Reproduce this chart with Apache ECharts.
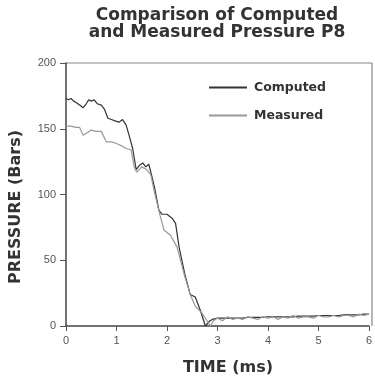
<!DOCTYPE html>
<html><head><meta charset="utf-8">
<script src="https://cdn.jsdelivr.net/npm/echarts@6/dist/echarts.min.js"></script>
<style>html,body{margin:0;padding:0;background:#fff}#c{width:375px;height:382px}</style>
</head><body><div id="c"></div>
<script>
var xTicks = [0, 1, 2, 3, 4, 5, 6];
var yTicks = [0, 50, 100, 150, 200];
var computedT = [0.0,0.05,0.1,0.15,0.2,0.27,0.34,0.4,0.45,0.5,0.56,0.62,0.7,0.76,0.83,0.9,0.97,1.05,1.12,1.19,1.25,1.32,1.39,1.45,1.52,1.58,1.64,1.68,1.75,1.84,1.9,2.0,2.1,2.17,2.24,2.35,2.46,2.56,2.66,2.76,2.85,2.9,
  3.0,3.1,3.2,3.3,3.4,3.5,3.6,3.7,3.8,3.9,4.0,4.1,4.2,4.3,4.4,4.5,4.6,4.7,4.8,4.9,5.0,5.1,5.2,5.3,5.4,5.5,5.6,5.7,5.8,5.9,6.0];
var computedP = [173,172,173,171,170,168,166,169,172,171,172,169,168,165,158,157,156,155,157,153,145,135,119,122,124,121,123,117,106,88,85,85,82,78,60,40,24,22,12,0,4,5,
  6,6,6,6,6,6,6.5,6.5,6.5,6.5,7,7,7,7,7,7,7.5,7.5,7.5,7.5,8,8,8,8,8,8.5,8.5,8.5,8.5,9,9];
var measuredT = [0.0,0.1,0.2,0.27,0.34,0.42,0.5,0.6,0.7,0.8,0.9,0.99,1.1,1.19,1.29,1.35,1.4,1.5,1.6,1.68,1.75,1.85,1.94,2.07,2.2,2.35,2.46,2.56,2.69,2.86,2.92,
  3.0,3.1,3.2,3.3,3.4,3.5,3.6,3.7,3.8,3.9,4.0,4.1,4.2,4.3,4.4,4.5,4.6,4.7,4.8,4.9,5.0,5.1,5.2,5.3,5.4,5.5,5.6,5.7,5.8,5.9,6.0];
var measuredP = [152,152,151,151,145,147,149,148,148,140,140,139,137,135,134,121,117,121,119,115,102,86,73,69,60,38,24,15,10,0,4,
  6,4,7,5,6,5,7,6,5,7,6,7,5,7,6,8,6,7,7,6,8,7,7,8,7,8,8,7,9,8,9];

function pairs(t, p) { return t.map(function (v, i) { return [v, p[i]]; }); }

var nameFont = { fontFamily: 'DejaVu Sans', fontWeight: 'bold', fontSize: 16, fill: '#333' };

var chart = echarts.init(document.getElementById('c'));
chart.setOption({
  backgroundColor: '#fff',
  animation: false,
  title: {
    text: 'Comparison of Computed\nand Measured Pressure P8',
    left: 212, top: 2, textAlign: 'center',
    textStyle: { fontFamily: 'DejaVu Sans', fontWeight: 'bold', fontSize: 17, lineHeight: 17, color: '#333' }
  },
  legend: {
    orient: 'vertical', left: 204, top: 76, itemGap: 15,
    itemWidth: 38, itemHeight: 2, icon: 'rect',
    textStyle: { fontFamily: 'DejaVu Sans', fontWeight: 'bold', fontSize: 12.5, color: '#333', padding: [0, 0, 0, 2] },
    data: ['Computed', 'Measured']
  },
  grid: { left: 66, right: 3, top: 63, bottom: 56 },
  xAxis: {
    type: 'value', min: 0, max: 6, interval: 1,
    axisLine: { show: true, lineStyle: { color: '#444', width: 1.5 } },
    axisTick: { show: true, length: 5, lineStyle: { color: '#555' } },
    axisLabel: { fontFamily: 'Liberation Sans', fontSize: 11, color: '#555', margin: 9,
      formatter: function (v) { return xTicks.indexOf(v) >= 0 ? String(v) : ''; } },
    splitLine: { show: false }
  },
  yAxis: {
    type: 'value', min: 0, max: 200, interval: 50,
    axisLine: { show: true, lineStyle: { color: '#444', width: 1.5 } },
    axisTick: { show: true, length: 6, lineStyle: { color: '#555' } },
    axisLabel: { fontFamily: 'Liberation Sans', fontSize: 11, color: '#555', margin: 10,
      formatter: function (v) { return yTicks.indexOf(v) >= 0 ? String(v) : ''; } },
    splitLine: { show: false }
  },
  graphic: [
    { type: 'line', shape: { x1: 66, y1: 63, x2: 372, y2: 63 }, style: { stroke: '#888', lineWidth: 1.2 } },
    { type: 'line', shape: { x1: 372, y1: 63, x2: 372, y2: 326 }, style: { stroke: '#888', lineWidth: 1.2 } },
    { type: 'text', x: 228, y: 368, style: Object.assign({ text: 'TIME (ms)', align: 'center', verticalAlign: 'middle' }, nameFont) },
    { type: 'text', x: 16, y: 207, rotation: Math.PI / 2, style: Object.assign({ text: 'PRESSURE (Bars)', align: 'center', verticalAlign: 'middle' }, nameFont) }
  ],
  series: [
    { name: 'Computed', type: 'line', data: pairs(computedT, computedP), showSymbol: false, symbol: 'none',
      lineStyle: { color: '#333', width: 1.2 }, itemStyle: { color: '#333' } },
    { name: 'Measured', type: 'line', data: pairs(measuredT, measuredP), showSymbol: false, symbol: 'none',
      lineStyle: { color: '#999', width: 1.2 }, itemStyle: { color: '#999' } }
  ]
});
</script></body></html>
